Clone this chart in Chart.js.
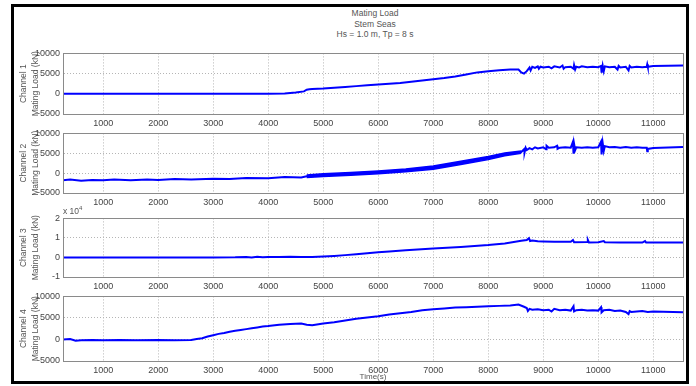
<!DOCTYPE html>
<html>
<head>
<meta charset="utf-8">
<script src="https://cdn.jsdelivr.net/npm/chart.js@4.4.1/dist/chart.umd.min.js"></script>
<style>
    body { margin: 0; width: 696px; height: 386px; background: #fff; position: relative; overflow: hidden;
           font-family: "Liberation Sans", Arial, sans-serif; color: #444; }
    .frame { position: absolute; left: 11px; top: 4px; width: 672px; height: 374px; border: 3px solid #000; }
    .title { position: absolute; left: 275px; width: 200px; top: 8px; text-align: center; font-size: 8.5px; line-height: 10.5px; color: #555; }
    .xtitle { position: absolute; left: 323px; width: 100px; top: 372px; text-align: center; font-size: 8px; line-height: 9px; color: #555; }
    .exp { position: absolute; left: 63px; top: 205px; font-size: 8.5px; color: #555; }
    .exp sup { font-size: 6px; }
    canvas { position: absolute; left: 0; }
</style>
</head>
<body>
<div class="frame"></div>
<div class="title">Mating Load<br>Stem Seas<br>Hs = 1.0 m, Tp = 8 s</div>
<canvas id="ch1" width="696" height="87"></canvas>
<canvas id="ch2" width="696" height="86"></canvas>
<div class="exp">x 10<sup>4</sup></div>
<canvas id="ch3" width="696" height="85"></canvas>
<canvas id="ch4" width="696" height="91"></canvas>
<div class="xtitle">Time(s)</div>

<script>
// time axis
const xMin = 270;
const xMax = 11540;
const xTicks = [1000, 2000, 3000, 4000, 5000, 6000, 7000, 8000, 9000, 10000, 11000];
const loadTicks = [-5000, 0, 5000, 10000];
const ch3Ticks = [-10000, 0, 10000, 20000];

// [time (s), load (kN)]
const channel1 = [[270,0],[1000,0],[2000,0],[3000,0],[4000,0],[4300,50],[4500,300],[4650,600],[4700,1000],[4750,1100],
    [4800,1200],[5000,1300],[5200,1500],[5400,1700],[5600,1900],[5800,2100],[6000,2300],[6200,2500],[6400,2700],[6600,3000],
    [6800,3300],[7000,3600],[7200,3900],[7400,4300],[7600,4800],[7800,5300],[8000,5600],[8200,5800],[8400,6000],[8550,6000],
    [8600,5300],[8650,5000],[8700,5600],[8750,6500],[8770,5800],[8800,6700],[8850,6400],[8900,6800],[8920,6200],[8950,6700],
    [9000,6500],[9100,6700],[9150,6300],[9200,6800],[9300,6500],[9350,7000],[9370,6200],[9400,6600],[9500,6700],[9550,6200],
    [9560,7100],[9580,6000],[9600,6700],[9650,6500],[9700,6800],[9800,6600],[9900,6700],[10000,6600],[10050,6900],[10060,5200],
    [10080,7000],[10100,5600],[10120,6800],[10200,6600],[10300,6700],[10350,6000],[10370,6900],[10400,6500],[10500,6700],[10550,5800],
    [10570,6900],[10600,6500],[10700,6700],[10800,6600],[10880,6700],[10890,7300],[10900,6700],[11000,6900],[11540,7000]];

const channel2 = [[270,-1800],[400,-1600],[600,-1900],[800,-1700],[1000,-1800],[1200,-1600],[1500,-1800],[1800,-1600],[2000,-1700],[2300,-1500],
    [2600,-1600],[3000,-1400],[3300,-1500],[3600,-1200],[4000,-1300],[4300,-1000],[4600,-1100],[4700,-800],[5000,-500],[5500,-200],
    [6000,200],[6500,700],[7000,1400],[7500,2600],[8000,3800],[8300,4700],[8600,5300],[8650,6000],[8660,5200],[8680,6400],
    [8700,5800],[8750,6300],[8800,6000],[8850,6500],[8900,6200],[9000,6500],[9050,6000],[9060,6900],[9100,6400],[9200,6500],
    [9250,6900],[9260,6100],[9300,6400],[9400,6500],[9500,6400],[9540,7900],[9550,4900],[9560,7400],[9580,5800],[9600,6500],
    [9700,6400],[9800,6500],[9900,6400],[10000,6500],[10050,7900],[10060,4700],[10080,7600],[10100,5600],[10120,6800],[10200,6500],
    [10300,6600],[10400,6400],[10500,6600],[10600,6400],[10700,6500],[10800,6400],[10880,6400],[10890,5500],[10900,6100],[11000,6300],
    [11540,6600]];

// noisy band of channel 2 while the load rises
const ch2BandUpper = [[4700,-500],[5000,-150],[5500,150],[6000,550],[6500,1050],[7000,1800],[7500,3000],[8000,4200],[8300,5050],[8600,5600]];
const ch2BandLower = [[4700,-1100],[5000,-850],[5500,-550],[6000,-150],[6500,350],[7000,1000],[7500,2200],[8000,3400],[8300,4350],[8600,5000]];

const channel3 = [[270,0],[1000,0],[2000,0],[3000,0],[3400,100],[3600,300],[3700,0],[3800,400],[3900,100],[4000,300],
    [4200,200],[4400,400],[4600,200],[4800,300],[5000,500],[5200,800],[5400,1200],[5600,1700],[5800,2200],[6000,2700],
    [6200,3100],[6500,3700],[7000,4600],[7500,5400],[8000,6400],[8300,7200],[8600,8500],[8700,8900],[8740,9900],[8760,8400],
    [8800,8700],[8900,8300],[9000,8200],[9200,8100],[9500,8000],[9540,8900],[9560,7800],[9800,7900],[9810,9000],[9830,7700],
    [10000,7800],[10100,8400],[10120,7800],[10400,7700],[10800,7600],[10850,8400],[10870,7600],[11000,7600],[11540,7700]];

const channel4 = [[270,0],[400,100],[500,-300],[600,-200],[800,-100],[1000,-200],[1300,-100],[1600,-200],[2000,-100],[2300,-200],
    [2600,-100],[2700,100],[2800,300],[2900,700],[3000,1000],[3100,1300],[3200,1500],[3300,1800],[3400,2000],[3500,2200],
    [3600,2400],[3700,2600],[3800,2800],[3900,3000],[4000,3100],[4200,3400],[4400,3600],[4600,3700],[4700,3400],[4800,3300],
    [5000,3700],[5200,4000],[5400,4400],[5600,4800],[5800,5100],[6000,5400],[6200,5800],[6400,6100],[6600,6400],[6800,6800],
    [7000,7000],[7200,7200],[7400,7400],[7600,7500],[7800,7600],[8000,7700],[8200,7800],[8400,7900],[8550,8100],[8650,7600],
    [8700,7300],[8720,6600],[8750,7100],[8800,6900],[8900,7000],[9000,6800],[9100,6900],[9150,6500],[9200,7100],[9300,6800],
    [9400,6900],[9500,6700],[9550,7700],[9560,6500],[9600,6800],[9700,6900],[9800,6700],[9900,6800],[10000,6700],[10050,7500],
    [10060,6300],[10100,6800],[10200,6900],[10300,6600],[10400,6700],[10500,6400],[10550,5900],[10570,6600],[10600,6400],[10700,6500],
    [10800,6600],[10900,6400],[11000,6500],[11540,6300]];

const FONT = { family: '"Liberation Sans", Arial, sans-serif', size: 9 };
const GRID = '#b5b5b5';
const BLUE = '#0000ff';

// MATLAB-style full box round each panel
const boxPlugin = {
    id: 'box',
    afterDraw(chart) {
        const a = chart.chartArea;
        const ctx = chart.ctx;
        ctx.save();
        ctx.strokeStyle = '#8a8a8a';
        ctx.lineWidth = 1;
        ctx.strokeRect(Math.round(a.left) + 0.5, Math.round(a.top) + 0.5, Math.round(a.width), Math.round(a.height));
        ctx.restore();
    }
};

const toXY = series => series.map(p => ({ x: p[0], y: p[1] }));

function lineSet(series) {
    return { data: toXY(series), borderColor: BLUE, borderWidth: 2, pointRadius: 0, tension: 0, fill: false };
}

// top/bottom are the plot-area edges in page pixels
function makePanel(id, datasets, name, top, bottom, yMin, yMax, yTicks, tickFormat) {
    const padTop = 8, xAxisH = 18;
    const canvas = document.getElementById(id);
    canvas.style.top = (top - padTop) + 'px';
    canvas.height = bottom - top + padTop + xAxisH;

    new Chart(canvas, {
        type: 'line',
        data: { datasets: datasets },
        options: {
            responsive: false,
            animation: false,
            layout: { padding: { top: padTop, left: 14, right: 13, bottom: 0 } },
            plugins: { legend: { display: false }, tooltip: { enabled: false } },
            scales: {
                x: {
                    type: 'linear',
                    min: xMin,
                    max: xMax,
                    afterBuildTicks: s => { s.ticks = xTicks.map(v => ({ value: v })); },
                    afterFit: s => { s.height = xAxisH; },
                    grid: { color: GRID, drawTicks: false },
                    border: { color: '#8a8a8a', dash: [1, 2] },
                    ticks: { font: FONT, color: '#444', padding: 4, maxRotation: 0, autoSkip: false, callback: v => String(v) }
                },
                y: {
                    min: yMin,
                    max: yMax,
                    afterBuildTicks: s => { s.ticks = yTicks.map(v => ({ value: v })); },
                    afterFit: s => { s.width = 49; },
                    grid: { color: GRID, drawTicks: false },
                    border: { color: '#8a8a8a', dash: [1, 2] },
                    ticks: { font: FONT, color: '#444', padding: 3, callback: tickFormat || (v => String(v)) },
                    title: {
                        display: true,
                        text: [name, 'Mating Load (kN)'],
                        font: { family: FONT.family, size: 8.5, lineHeight: 1.4 },
                        color: '#555',
                        padding: { top: 4, bottom: 0 }
                    }
                }
            }
        },
        plugins: [boxPlugin]
    });
}

makePanel('ch1', [lineSet(channel1)], 'Channel 1', 53, 114, -5000, 10000, loadTicks);
makePanel('ch2', [
    lineSet(channel2),
    { data: toXY(ch2BandUpper), borderColor: BLUE, borderWidth: 1.5, pointRadius: 0, fill: false },
    { data: toXY(ch2BandLower), borderColor: BLUE, borderWidth: 1.5, pointRadius: 0, fill: '-1', backgroundColor: BLUE }
], 'Channel 2', 133, 193, -5000, 10000, loadTicks);
makePanel('ch3', [lineSet(channel3)], 'Channel 3', 218, 277, -10000, 20000, ch3Ticks, v => String(v / 10000));
makePanel('ch4', [lineSet(channel4)], 'Channel 4', 296, 361, -5000, 10000, loadTicks);
</script>
</body>
</html>
